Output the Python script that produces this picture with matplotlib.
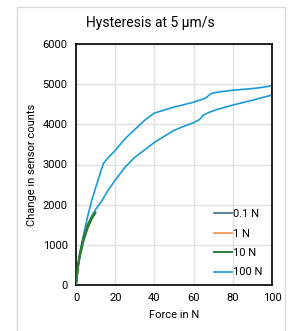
import matplotlib.pyplot as plt
from matplotlib.patches import Rectangle

plt.rcParams['font.family'] = ['Roboto', 'DejaVu Sans']

# 100 N cycle: loading (lower branch) then unloading (upper branch)
f100_load = [0, 1, 2, 4, 6, 8, 10, 13, 16, 20, 25, 30, 36, 40, 45, 50, 55, 60, 63, 65, 68, 72, 80, 90, 100]
c100_load = [0, 450, 750, 1200, 1500, 1720, 1880, 2080, 2330, 2610, 2930, 3180, 3400, 3550, 3700, 3850, 3950, 4040, 4120, 4230, 4300, 4370, 4480, 4600, 4730]
f100_unload = [100, 100, 95, 90, 80, 72, 69, 66, 60, 50, 40, 35, 30, 25, 20, 17, 14, 10, 8, 6, 3, 1, 0]
c100_unload = [4730, 4960, 4920, 4890, 4850, 4800, 4770, 4650, 4550, 4430, 4280, 4100, 3870, 3640, 3350, 3200, 3030, 2420, 2100, 1720, 1050, 450, 0]

f10 = [0, 1, 2, 4, 6, 8, 10, 8, 6, 4, 2, 1, 0]
c10 = [0, 430, 720, 1120, 1420, 1640, 1810, 1680, 1500, 1220, 820, 500, 0]

f1 = [0, 0.25, 0.5, 0.75, 1, 0.5, 0]
c1 = [0, 130, 220, 290, 350, 250, 0]

f01 = [0, 0.05, 0.1, 0.05, 0]
c01 = [0, 30, 55, 35, 0]

labels = ['0.1 N', '1 N', '10 N', '100 N']
colors = ['#3b6e8f', '#f28b4f', '#2f7d32', '#1a9bd7']

fig = plt.figure(figsize=(2.89, 3.31), dpi=100)
fig.patches.append(Rectangle((17/289, -0.1), (285-17)/289, 1.1 - 7/331,
                             transform=fig.transFigure, fill=False,
                             edgecolor='#d9d9d9', lw=1))
ax = fig.add_axes([76/289, 46/331, 196/289, 241/331])

ax.plot(f100_load + f100_unload, c100_load + c100_unload, color=colors[3], lw=1.2, label=labels[3], zorder=2)
ax.plot(f01, c01, color=colors[0], lw=1.2, label=labels[0], zorder=3)
ax.plot(f1, c1, color=colors[1], lw=1.2, label=labels[1], zorder=3)
ax.plot(f10, c10, color=colors[2], lw=1.4, label=labels[2], zorder=3)

ax.set_xlim(0, 100)
ax.set_ylim(0, 6000)
ax.set_xticks(range(0, 101, 20))
ax.set_yticks(range(0, 6001, 1000))
ax.grid(color='#e0e0e0', lw=1)
ax.set_axisbelow(True)
ax.tick_params(length=0, labelsize=8, pad=6)
for s in ax.spines.values():
    s.set_linewidth(1.2)
    s.set_color('black')

ax.set_xlabel('Force in N', fontsize=8, labelpad=5)
ax.set_ylabel('Change in sensor counts', fontsize=8, labelpad=4)
fig.text(150/289, 1 - 23/331, 'Hysteresis at 5 µm/s', fontsize=10, ha='center', va='center')

h, l = ax.get_legend_handles_labels()
order = [1, 2, 3, 0]
ax.legend([h[i] for i in order], [l[i] for i in order], loc='lower right',
          bbox_to_anchor=(1.0, -0.01), frameon=False, fontsize=8,
          handlelength=1.6, handletextpad=0.1, labelspacing=0.85)

fig.savefig('out.png', dpi=100)
